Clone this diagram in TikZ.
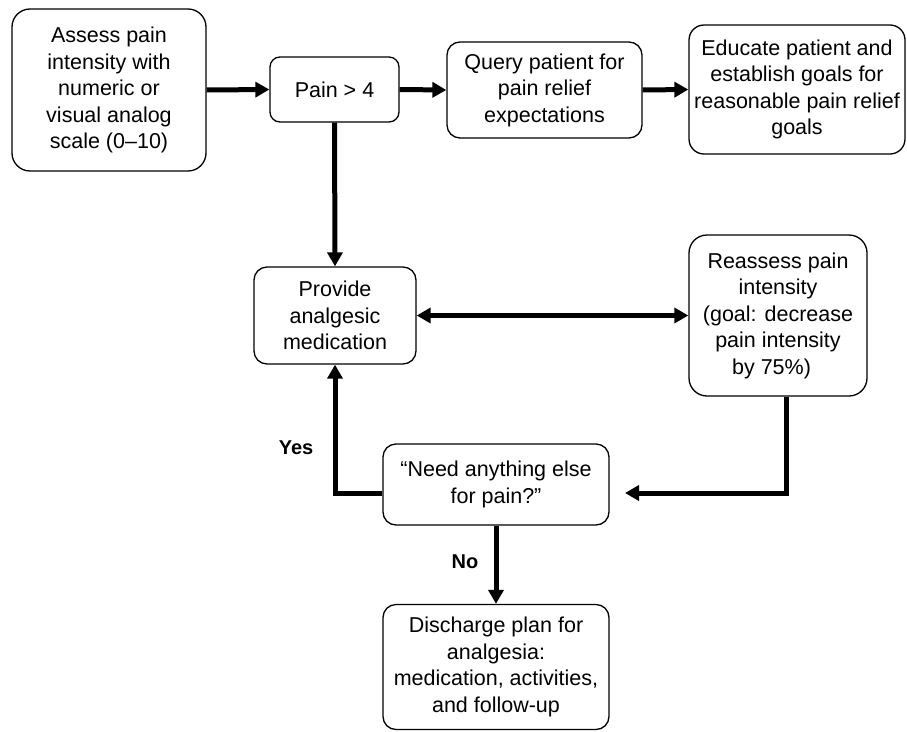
\documentclass[tikz,border=0pt]{standalone}
\usepackage{fontspec}
\setmainfont{Liberation Sans}
\usetikzlibrary{arrows.meta}
\begin{document}
\begin{tikzpicture}[x=1pt,y=-1pt,
  stepbox/.style={draw=black, line width=1.3pt, rounded corners=13pt, align=center,
    font=\fontsize{21.5}{26.5}\selectfont, inner sep=0pt, text=black},
  flow/.style={line width=5pt, -{Triangle[length=14pt,width=15pt]}},
  biflow/.style={line width=5pt, {Triangle[length=14pt,width=15pt]}-{Triangle[length=14pt,width=15pt]}},
  plain/.style={line width=5pt},
  lbl/.style={font=\fontsize{20}{24}\selectfont\bfseries}]
\useasboundingbox (0,0) rectangle (907,731);

% process boxes
\node[stepbox, rounded corners=18pt, minimum width=194pt, minimum height=162pt] (assess) at (109,90)
  {Assess pain\\intensity with\\numeric or\\visual analog\\scale (0--10)};
\node[stepbox, rounded corners=10pt, minimum width=129pt, minimum height=65pt] (pain) at (334.5,89.5)
  {Pain {>} 4};
\node[stepbox, minimum width=195pt, minimum height=96pt] (query) at (544.5,90)
  {Query patient for\\pain relief\\expectations};
\node[stepbox, rounded corners=15pt, minimum width=216pt, minimum height=129pt] (educate) at (797,89.5)
  {Educate patient and\\establish goals for\\reasonable pain relief\\goals};
\node[stepbox, minimum width=162pt, minimum height=97pt] (provide) at (335,315.5)
  {Provide\\analgesic\\medication};
\node[stepbox, rounded corners=18pt, minimum width=178pt, minimum height=161pt] (reassess) at (778,315.5)
  {Reassess pain\\intensity\\(goal: decrease\\pain intensity\\by 75\%)\hspace*{0.6em}};
\node[stepbox, minimum width=226pt, minimum height=81pt] (need) at (496,484.5)
  {``Need anything else\\for pain?''};
\node[stepbox, minimum width=226pt, minimum height=125pt] (discharge) at (496,667)
  {Discharge plan for\\analgesia:\\medication, activities,\\and follow-up};

% connector bend points
\coordinate (rbend) at (786,493);
\coordinate (rtip) at (625,493);
\coordinate (lbend) at (335,493);

% connectors
\draw[flow] (assess.east) -- (pain.west);
\draw[flow] (pain.east) -- (query.west);
\draw[flow] (query.east) -- (educate.west);
\draw[flow] (pain.south) -- (provide.north);
\draw[biflow] (provide.east) -- (reassess.west);
\draw[flow] (reassess.south -| rbend) -- (rbend) -- (rtip);
\draw[flow] (need.west |- lbend) -- (lbend) -- (provide.south);
\draw[flow] (need.south) -- (discharge.north);

% branch labels
\node[lbl] (yes) at (296,448) {Yes};
\node[lbl] (no) at (465,562) {No};
\end{tikzpicture}
\end{document}
